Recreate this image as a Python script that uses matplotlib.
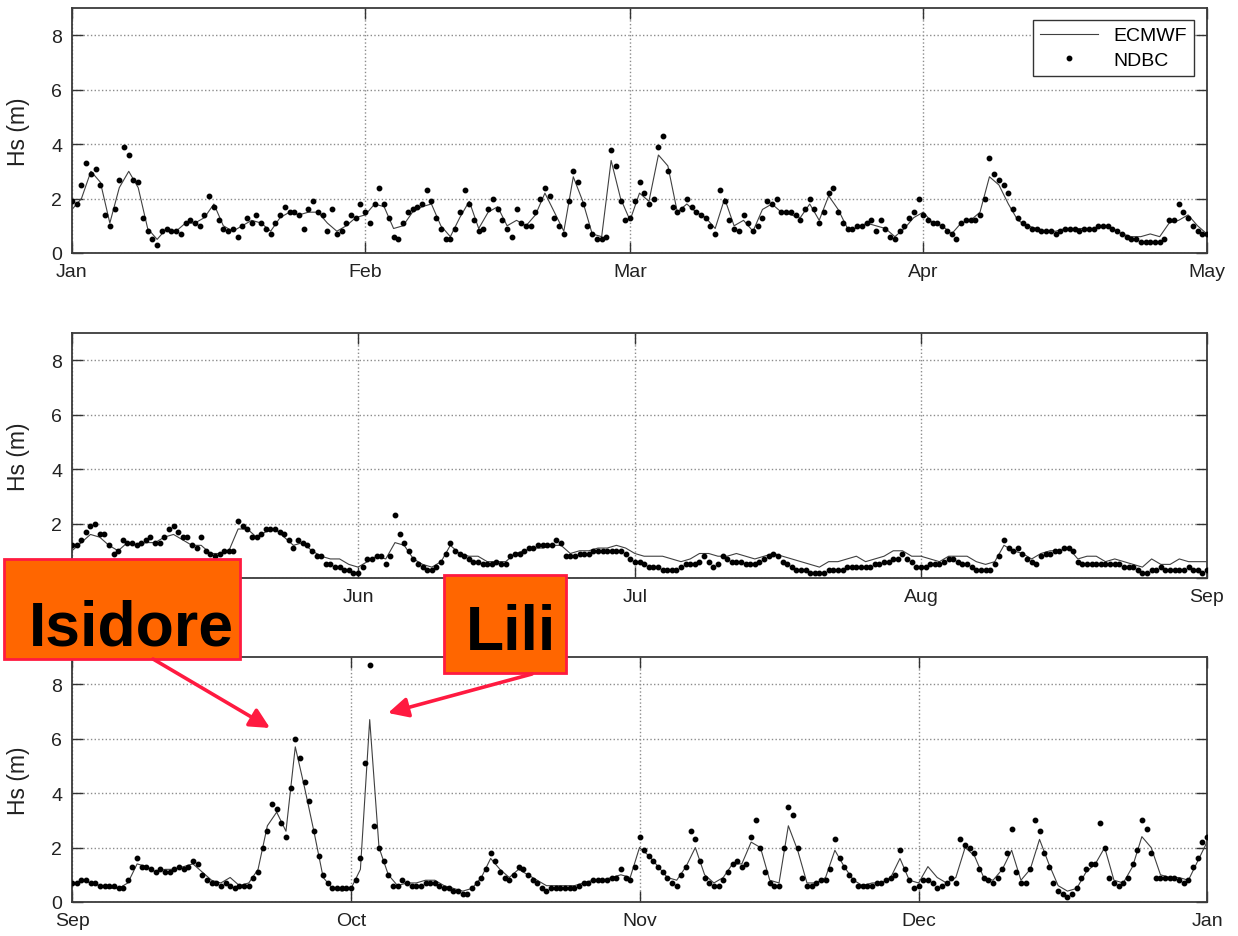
import numpy as np
import pandas as pd
import matplotlib
matplotlib.use('Agg')
import matplotlib.pyplot as plt
import matplotlib.dates as mdates
from matplotlib.patches import Rectangle, FancyArrowPatch

plt.rcParams['font.family'] = ['Liberation Sans', 'DejaVu Sans']

# ---------------- data ----------------
# Panel 1: 2002-01-01 .. 2002-05-01 ; NDBC every 12 h, ECMWF daily
p1_start, p1_end = '2002-01-01', '2002-05-01'
p1_ndbc = [
    1.9, 1.8, 2.5, 3.3, 2.9, 3.1, 2.5, 1.4, 1.0, 1.6,
    2.7, 3.9, 3.6, 2.7, 2.6, 1.3, 0.8, 0.5, 0.3, 0.8,
    0.9, 0.8, 0.8, 0.7, 1.1, 1.2, 1.1, 1.0, 1.4, 2.1,
    1.7, 1.2, 0.9, 0.8, 0.9, 0.6, 1.0, 1.3, 1.1, 1.4,
    1.1, 0.9, 0.7, 1.1, 1.4, 1.7, 1.5, 1.5, 1.4, 0.9,
    1.6, 1.9, 1.5, 1.4, 0.8, 1.6, 0.7, 0.8, 1.1, 1.4,
    1.3, 1.8, 1.5, 1.1, 1.8, 2.4, 1.8, 1.3, 0.6, 0.5,
    1.1, 1.5, 1.6, 1.7, 1.8, 2.3, 1.9, 1.3, 0.9, 0.5,
    0.5, 0.9, 1.5, 2.3, 1.8, 1.2, 0.8, 0.9, 1.6, 2.0,
    1.6, 1.2, 0.9, 0.6, 1.6, 1.1, 1.0, 1.0, 1.5, 2.0,
    2.4, 2.1, 1.3, 1.0, 0.7, 1.9, 3.0, 2.6, 1.8, 1.0,
    0.7, 0.5, 0.5, 0.6, 3.8, 3.2, 1.9, 1.2, 1.3, 1.9,
    2.6, 2.2, 1.8, 2.0, 3.9, 4.3, 3.0, 1.7, 1.5, 1.6,
    2.0, 1.7, 1.5, 1.4, 1.3, 1.0, 0.7, 2.3, 1.9, 1.2,
    0.9, 0.8, 1.4, 1.1, 0.8, 1.0, 1.3, 1.9, 1.8, 2.0,
    1.5, 1.5, 1.5, 1.4, 1.2, 1.6, 2.0, 1.6, 1.1, 1.5,
    2.2, 2.4, 1.5, 1.1, 0.9, 0.9, 1.0, 1.0, 1.1, 1.2,
    0.8, 1.2, 0.9, 0.6, 0.5, 0.8, 1.0, 1.3, 1.5, 2.0,
    1.4, 1.2, 1.1, 1.1, 1.0, 0.8, 0.7, 0.5, 1.1, 1.2,
    1.2, 1.2, 1.4, 2.0, 3.5, 2.9, 2.7, 2.5, 2.2, 1.6,
    1.3, 1.1, 1.0, 0.9, 0.9, 0.8, 0.8, 0.8, 0.7, 0.8,
    0.9, 0.9, 0.9, 0.8, 0.9, 0.9, 0.9, 1.0, 1.0, 1.0,
    0.9, 0.8, 0.7, 0.6, 0.5, 0.5, 0.4, 0.4, 0.4, 0.4,
    0.4, 0.5, 1.2, 1.2, 1.8, 1.5, 1.3, 1.0, 0.8, 0.7,
    0.7,
]
p1_ecmwf = [
    1.6, 2.0, 3.0, 2.6, 1.1, 2.4, 3.0, 2.4, 0.9, 0.5,
    0.9, 0.8, 1.1, 1.1, 1.3, 1.8, 1.0, 0.8, 1.0, 1.2,
    1.1, 0.8, 1.3, 1.5, 1.4, 1.5, 1.5, 1.1, 0.8, 1.0,
    1.3, 1.4, 1.8, 1.7, 0.9, 1.0, 1.5, 1.7, 1.8, 1.0,
    0.6, 1.3, 1.9, 0.9, 1.5, 1.7, 1.0, 1.2, 1.0, 1.4,
    2.2, 1.5, 0.8, 2.8, 1.9, 0.7, 0.6, 3.4, 2.0, 1.2,
    2.2, 1.9, 3.6, 3.2, 1.5, 1.8, 1.5, 1.3, 0.9, 2.0,
    1.0, 1.2, 0.8, 1.6, 1.8, 1.5, 1.4, 1.3, 1.8, 1.2,
    2.1, 1.6, 0.9, 0.9, 1.1, 1.0, 0.9, 0.6, 0.9, 1.3,
    1.5, 1.1, 1.0, 0.7, 1.1, 1.2, 1.5, 2.8, 2.5, 1.8,
    1.2, 1.0, 0.9, 0.8, 0.8, 0.9, 0.9, 0.9, 0.9, 1.0,
    0.9, 0.7, 0.6, 0.6, 0.7, 0.6, 1.1, 1.2, 1.4, 1.0,
    0.7,
]

# Panel 2: 2002-05-01 .. 2002-09-01
p2_start, p2_end = '2002-05-01', '2002-09-01'
p2_ndbc = [
    1.2, 1.2, 1.4, 1.7, 1.9, 2.0, 1.6, 1.6, 1.2, 0.9,
    1.0, 1.4, 1.3, 1.3, 1.2, 1.3, 1.4, 1.5, 1.3, 1.3,
    1.5, 1.8, 1.9, 1.7, 1.5, 1.5, 1.2, 1.1, 1.5, 1.0,
    0.9, 0.8, 0.9, 1.0, 1.0, 1.0, 2.1, 1.9, 1.8, 1.5,
    1.5, 1.6, 1.8, 1.8, 1.8, 1.7, 1.6, 1.4, 1.1, 1.4,
    1.3, 1.2, 1.0, 0.8, 0.8, 0.5, 0.5, 0.4, 0.4, 0.3,
    0.3, 0.2, 0.2, 0.4, 0.7, 0.7, 0.8, 0.8, 0.5, 0.8,
    2.3, 1.6, 1.3, 1.0, 0.7, 0.5, 0.4, 0.3, 0.3, 0.4,
    0.6, 0.9, 1.3, 1.0, 0.9, 0.8, 0.7, 0.6, 0.6, 0.5,
    0.5, 0.5, 0.6, 0.5, 0.5, 0.8, 0.9, 0.9, 1.0, 1.1,
    1.1, 1.2, 1.2, 1.2, 1.2, 1.4, 1.3, 0.8, 0.8, 0.8,
    0.9, 0.9, 0.9, 1.0, 1.0, 1.0, 1.0, 1.0, 1.0, 1.0,
    0.9, 0.7, 0.6, 0.6, 0.5, 0.4, 0.4, 0.4, 0.3, 0.3,
    0.3, 0.3, 0.4, 0.5, 0.5, 0.5, 0.6, 0.8, 0.6, 0.4,
    0.5, 0.8, 0.7, 0.6, 0.6, 0.6, 0.5, 0.5, 0.5, 0.6,
    0.7, 0.8, 0.9, 0.8, 0.6, 0.5, 0.4, 0.3, 0.3, 0.3,
    0.2, 0.2, 0.2, 0.2, 0.3, 0.3, 0.3, 0.3, 0.4, 0.4,
    0.4, 0.4, 0.4, 0.4, 0.5, 0.5, 0.6, 0.6, 0.7, 0.7,
    0.9, 0.7, 0.6, 0.4, 0.4, 0.4, 0.5, 0.5, 0.5, 0.6,
    0.7, 0.7, 0.6, 0.5, 0.5, 0.4, 0.3, 0.3, 0.3, 0.3,
    0.5, 0.8, 1.4, 1.1, 1.0, 1.1, 0.9, 0.7, 0.6, 0.5,
    0.8, 0.9, 0.9, 1.0, 1.0, 1.1, 1.1, 1.0, 0.6, 0.5,
    0.5, 0.5, 0.5, 0.5, 0.5, 0.5, 0.5, 0.5, 0.4, 0.4,
    0.4, 0.3, 0.2, 0.2, 0.3, 0.3, 0.4, 0.3, 0.3, 0.3,
    0.3, 0.3, 0.4, 0.3, 0.3, 0.2, 0.3,
]
p2_ecmwf = [
    1.0, 1.3, 1.6, 1.5, 1.2, 1.0, 1.3, 1.2, 1.3, 1.3,
    1.5, 1.6, 1.4, 1.2, 1.2, 0.9, 0.9, 1.0, 1.8, 1.8,
    1.5, 1.7, 1.8, 1.5, 1.2, 1.3, 1.0, 0.8, 0.7, 0.7,
    0.5, 0.4, 0.6, 0.8, 0.7, 1.3, 1.2, 0.7, 0.5, 0.4,
    0.6, 1.2, 0.9, 0.8, 0.8, 0.6, 0.6, 0.6, 0.9, 1.0,
    1.1, 1.1, 1.2, 1.2, 0.9, 1.0, 1.0, 1.1, 1.1, 1.2,
    1.1, 0.9, 0.8, 0.8, 0.8, 0.7, 0.6, 0.7, 0.9, 0.9,
    0.8, 0.8, 0.9, 0.8, 0.7, 0.8, 0.9, 0.8, 0.7, 0.6,
    0.5, 0.4, 0.6, 0.6, 0.7, 0.8, 0.6, 0.7, 0.8, 1.0,
    1.0, 0.8, 0.8, 0.7, 0.6, 0.8, 0.8, 0.8, 0.6, 0.5,
    0.6, 1.2, 1.0, 0.9, 0.7, 0.9, 1.0, 1.0, 1.1, 0.7,
    0.8, 0.8, 0.6, 0.7, 0.6, 0.5, 0.4, 0.7, 0.5, 0.5,
    0.7, 0.6, 0.6, 0.6,
]

# Panel 3: 2002-09-01 .. 2003-01-01
p3_start, p3_end = '2002-09-01', '2003-01-01'
p3_ndbc = [
    0.7, 0.7, 0.8, 0.8, 0.7, 0.7, 0.6, 0.6, 0.6, 0.6,
    0.5, 0.5, 0.8, 1.3, 1.6, 1.3, 1.3, 1.2, 1.1, 1.2,
    1.1, 1.1, 1.2, 1.3, 1.2, 1.3, 1.5, 1.4, 1.0, 0.8,
    0.7, 0.7, 0.6, 0.7, 0.6, 0.5, 0.6, 0.6, 0.6, 0.9,
    1.1, 2.0, 2.6, 3.6, 3.4, 2.9, 2.4, 4.2, 6.0, 5.3,
    4.4, 3.7, 2.6, 1.7, 1.0, 0.7, 0.5, 0.5, 0.5, 0.5,
    0.5, 0.8, 1.6, 5.1, 8.7, 2.8, 2.0, 1.5, 1.0, 0.6,
    0.6, 0.8, 0.7, 0.6, 0.6, 0.6, 0.7, 0.7, 0.7, 0.6,
    0.5, 0.5, 0.4, 0.4, 0.3, 0.3, 0.5, 0.7, 0.9, 1.2,
    1.8, 1.5, 1.1, 0.9, 0.8, 1.0, 1.3, 1.2, 1.0, 0.8,
    0.7, 0.5, 0.4, 0.5, 0.5, 0.5, 0.5, 0.5, 0.5, 0.6,
    0.7, 0.7, 0.8, 0.8, 0.8, 0.8, 0.9, 0.9, 1.2, 0.9,
    0.8, 1.3, 2.4, 1.9, 1.7, 1.5, 1.3, 1.1, 0.9, 0.7,
    0.6, 1.0, 1.3, 2.6, 2.3, 1.5, 0.9, 0.7, 0.6, 0.6,
    0.8, 1.1, 1.4, 1.5, 1.3, 1.4, 2.4, 3.0, 2.0, 1.1,
    0.7, 0.6, 0.6, 2.0, 3.5, 3.2, 2.0, 0.9, 0.6, 0.6,
    0.7, 0.8, 0.8, 1.2, 2.3, 1.6, 1.3, 1.0, 0.8, 0.6,
    0.6, 0.6, 0.6, 0.7, 0.7, 0.8, 0.9, 1.0, 1.9, 1.2,
    0.8, 0.5, 0.6, 0.8, 0.8, 0.7, 0.5, 0.6, 0.7, 0.9,
    0.7, 2.3, 2.1, 2.0, 1.8, 1.2, 0.9, 0.8, 0.7, 0.9,
    1.2, 1.8, 2.7, 1.1, 0.7, 0.7, 1.2, 3.0, 2.6, 1.8,
    1.3, 0.7, 0.4, 0.3, 0.2, 0.3, 0.5, 0.9, 1.2, 1.4,
    1.4, 2.9, 2.0, 0.9, 0.7, 0.6, 0.7, 0.9, 1.4, 1.9,
    3.0, 2.7, 1.8, 0.9, 0.9, 0.9, 0.9, 0.9, 0.8, 0.7,
    0.8, 1.3, 1.6, 2.2, 2.4,
]
p3_ecmwf = [
    0.6, 0.8, 0.7, 0.6, 0.5, 0.5, 0.7, 1.4, 1.3, 1.1,
    1.2, 1.2, 1.3, 1.4, 1.1, 0.8, 0.7, 0.9, 0.6, 0.7,
    1.2, 2.8, 3.3, 2.6, 5.7, 4.2, 2.6, 0.9, 0.5, 0.4,
    0.5, 1.2, 6.7, 2.0, 1.0, 0.6, 0.7, 0.7, 0.8, 0.8,
    0.6, 0.5, 0.4, 0.5, 0.9, 1.6, 1.2, 0.9, 1.2, 1.0,
    0.8, 0.6, 0.6, 0.6, 0.6, 0.7, 0.8, 0.8, 0.9, 1.0,
    0.9, 2.0, 1.7, 1.3, 0.9, 0.8, 1.3, 2.0, 1.0, 0.7,
    0.9, 1.4, 1.4, 2.2, 2.0, 0.8, 0.7, 2.8, 1.9, 0.7,
    0.7, 0.9, 1.9, 1.3, 0.8, 0.6, 0.7, 0.7, 0.9, 1.6,
    0.8, 0.7, 1.3, 0.9, 0.7, 0.9, 2.0, 1.7, 0.9, 0.8,
    1.2, 1.9, 0.8, 1.2, 2.3, 1.4, 0.6, 0.4, 0.5, 1.1,
    1.4, 2.0, 0.8, 0.7, 1.3, 2.4, 2.0, 1.0, 0.9, 0.9,
    0.8, 1.5, 2.2,
]

y_ticks = [0, 2, 4, 6, 8]
labels_legend = ['ECMWF', 'NDBC']
storm_names = ['Isidore', 'Lili']

# ---------------- figure ----------------
W, H = 1238, 937
fig = plt.figure(figsize=(W / 100, H / 100), dpi=100)

left = 72 / W
width = (1207 - 72) / W
height = 245 / H
bottoms = [1 - 254 / H, 1 - 579 / H, 1 - 903 / H]

panels = [
    (p1_start, p1_end, p1_ndbc, p1_ecmwf),
    (p2_start, p2_end, p2_ndbc, p2_ecmwf),
    (p3_start, p3_end, p3_ndbc, p3_ecmwf),
]

axes = []
for i, (start, end, ndbc, ecm) in enumerate(panels):
    ax = fig.add_axes([left, bottoms[i], width, height])
    t_n = pd.date_range(start, periods=len(ndbc), freq='12h')
    t_e = pd.date_range(start, periods=len(ecm), freq='D')
    ax.plot(t_e, ecm, color='#404040', lw=0.8, label=labels_legend[0], zorder=3)
    ax.plot(t_n, ndbc, ls='none', marker='o', ms=3.2, mfc='black', mec='black',
            label=labels_legend[1], zorder=4)
    ax.set_xlim(pd.Timestamp(start), pd.Timestamp(end))
    ax.set_ylim(0, 9)
    ax.set_yticks(y_ticks)
    ax.xaxis.set_major_locator(mdates.MonthLocator())
    ax.xaxis.set_major_formatter(mdates.DateFormatter('%b'))
    ax.grid(True, ls=':', color='#8c8c8c', lw=1.0)
    ax.tick_params(direction='in', length=8, width=1.0, top=True, right=True,
                   labelsize=14, pad=7, color='#333333', labelcolor='#222222')
    for s in ax.spines.values():
        s.set_color('#3a3a3a')
        s.set_linewidth(1.3)
    ax.set_ylabel('Hs (m)', fontsize=16.5, color='#222222')
    ax.yaxis.set_label_coords(-0.037, 0.5)
    axes.append(ax)

# In the middle panel the "0" and "May" labels sit under the Isidore box
fig.canvas.draw()
mid = axes[1]
mid.yaxis.get_major_ticks()[0].label1.set_visible(False)
mid.xaxis.get_major_ticks()[0].label1.set_visible(False)

leg = axes[0].legend(loc='upper right', bbox_to_anchor=(0.9885, 0.951),
                     borderaxespad=0, fontsize=14, fancybox=False,
                     framealpha=1, edgecolor='#333333', handlelength=3.0,
                     handletextpad=0.8, borderpad=0.35, labelspacing=0.35)
leg.get_frame().set_linewidth(1.0)

# ---------------- annotations ----------------
face = '#FF6600'
edge = '#FF1A40'


def fx(px):
    return px / W


def fy(py):
    return 1 - py / H


boxes = [
    (4, 560, 240, 660, storm_names[0], 131.7, 645),
    (444, 576, 566, 674, storm_names[1], 510.5, 650),
]
for x0, y0, x1, y1, name, tx, ty in boxes:
    rect = Rectangle((fx(x0), fy(y1)), fx(x1) - fx(x0), fy(y0) - fy(y1),
                     transform=fig.transFigure, facecolor=face, edgecolor=edge,
                     lw=2.0, zorder=10)
    fig.patches.append(rect)
    fig.text(fx(tx), fy(ty), name, ha='center', va='baseline', fontsize=45,
             fontweight='bold', color='black', zorder=11)

arrows = [((153, 660), (270, 729)), ((532, 675), (388, 714))]
for (ax0, ay0), (ax1, ay1) in arrows:
    arr = FancyArrowPatch((fx(ax0), fy(ay0)), (fx(ax1), fy(ay1)),
                          transform=fig.transFigure, arrowstyle='-|>',
                          mutation_scale=30, lw=2.6, color=edge,
                          shrinkA=0, shrinkB=0, zorder=12)
    fig.patches.append(arr)

fig.savefig('out.png', dpi=100)
